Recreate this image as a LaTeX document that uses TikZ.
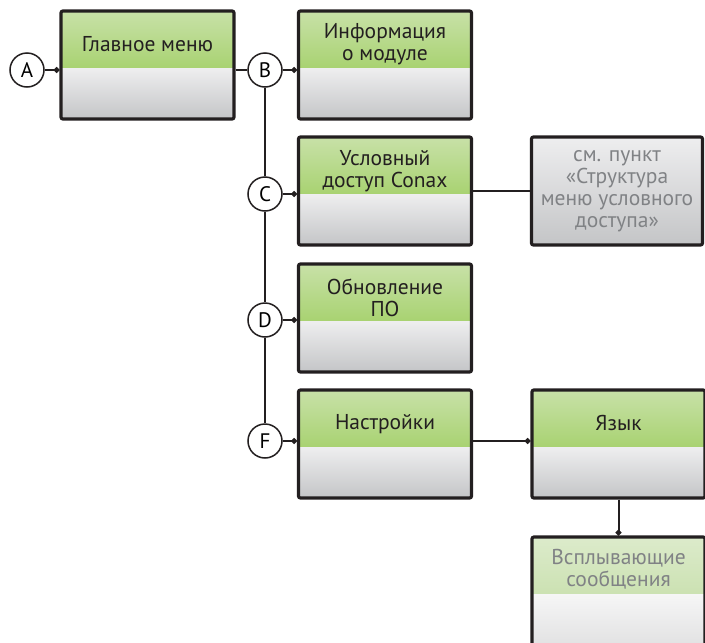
\documentclass[tikz,border=0pt]{standalone}
\usepackage{fontspec}
\setmainfont{PT Sans}
\usetikzlibrary{arrows.meta,calc}
\definecolor{edge}{HTML}{231F20}
\definecolor{greentop}{HTML}{C8E1A8}
\definecolor{greenmid}{HTML}{98CB56}
\definecolor{greenbot}{HTML}{8CC540}
\definecolor{graytop}{HTML}{EEEEEF}
\definecolor{graymid}{HTML}{DCDCDE}
\definecolor{graybot}{HTML}{C4C5C7}
\definecolor{paletop}{HTML}{DCEBCB}
\definecolor{palemid}{HTML}{C8E0AC}
\definecolor{palebot}{HTML}{BDD99C}
\definecolor{palegraytop}{HTML}{F6F6F6}
\definecolor{palegraymid}{HTML}{EEEEEE}
\definecolor{palegraybot}{HTML}{E2E2E3}
\definecolor{dimtext}{HTML}{808285}
% two-part fill of a menu box: head colours, then body colours
\newcommand{\boxfill}[6]{%
  \shade[top color=#1, middle color=#2, bottom color=#3]
    (path picture bounding box.north west) rectangle
    ($(path picture bounding box.north east)!0.53!(path picture bounding box.south east)$);
  \shade[top color=#4, middle color=#5, bottom color=#6]
    ($(path picture bounding box.north west)!0.53!(path picture bounding box.south west)$)
    rectangle (path picture bounding box.south east);}
\tikzset{
  itembox/.style={rectangle, rounded corners=2pt, draw=edge, line width=3.2pt,
    minimum width=173pt, minimum height=108pt, inner sep=0pt},
  menubox/.style={itembox,
    path picture={\boxfill{greentop}{greenmid}{greenbot}{graytop}{graymid}{graybot}}},
  palebox/.style={itembox,
    path picture={\boxfill{paletop}{palemid}{palebot}{palegraytop}{palegraymid}{palegraybot}}},
  refbox/.style={itembox, minimum width=171pt,
    top color=graytop, bottom color=graybot},
  itemtext/.style={align=center, text=edge, font=\fontsize{21.5}{22}\selectfont},
  dimitem/.style={itemtext, text=dimtext},
  marker/.style={circle, draw=edge, fill=white, line width=1.5pt,
    minimum size=34pt, inner sep=0pt, font=\fontsize{21}{22}\selectfont},
  link/.style={draw=edge, line width=2pt},
  dotlink/.style={link, -{Circle[length=5.5pt]}}
}
\begin{document}
\begin{tikzpicture}[x=1pt, y=-1pt]
  \useasboundingbox (0,0) rectangle (705,643);
  % boxes
  \node[menubox] (main) at (147.5,65) {};
  \node[itemtext] (main-t) at ([yshift=-35pt]main.north) {Главное меню};
  \node[menubox] (info) at (385,65) {};
  \node[itemtext] (info-t) at ([yshift=-35pt]info.north) {Информация\\о модуле};
  \node[menubox] (conax) at (385,191) {};
  \node[itemtext] (conax-t) at ([yshift=-36pt]conax.north) {Условный\\доступ Conax};
  \node[refbox] (see) at (617,191) {};
  \node[dimitem] (see-t) at (see.center) {см. пункт\\«Структура\\меню условного\\доступа»};
  \node[menubox] (update) at (385,318) {};
  \node[itemtext] (update-t) at ([yshift=-35pt]update.north) {Обновление\\ПО};
  \node[menubox] (setup) at (385,444) {};
  \node[itemtext] (setup-t) at ([yshift=-36pt]setup.north) {Настройки};
  \node[menubox] (lang) at (618.5,444) {};
  \node[itemtext] (lang-t) at ([yshift=-35pt]lang.north) {Язык};
  \node[palebox] (popup) at (618.5,591) {};
  \node[dimitem] (popup-t) at ([yshift=-34pt]popup.north) {Всплывающие\\сообщения};
  % markers
  \node[marker] (A) at (27,70) {A};
  \node[marker] (B) at (265,70) {B};
  \node[marker] (C) at (265,194) {C};
  \node[marker] (D) at (265,320) {D};
  \node[marker] (F) at (265,441) {F};
  % connectors
  \draw[dotlink] (A) -- (A -| main.west);
  \draw[link] (B -| main.east) -- (B);
  \draw[dotlink] (B) -- (B -| info.west);
  \draw[link] (B) -- (C);
  \draw[link] (C) -- (D);
  \draw[link] (D) -- (F);
  \draw[dotlink] (C) -- (C -| conax.west);
  \draw[dotlink] (D) -- (D -| update.west);
  \draw[dotlink] (F) -- (F -| setup.west);
  \draw[link] (conax) -- (see);
  \draw[dotlink] (F -| setup.east) -- (F -| lang.west);
  \draw[dotlink] (lang) -- (popup);
\end{tikzpicture}
\end{document}
